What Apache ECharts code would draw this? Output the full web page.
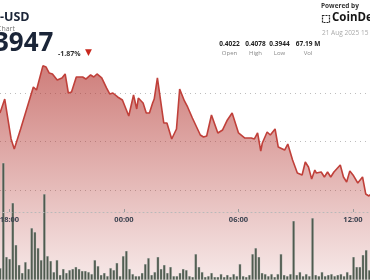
<!DOCTYPE html>
<html><head><meta charset="utf-8">
<script src="https://cdn.jsdelivr.net/npm/echarts@6/dist/echarts.min.js"></script>
<style>html,body{margin:0;padding:0;background:#fff;overflow:hidden}#c{width:370px;height:280px}</style>
</head><body><div id="c"></div>
<script>
// ---- data ----
const pairName = '-USD';
const subTitle = 'Chart';
const lastPrice = '3947';
const changePct = '-1.87%';
const statValues = ['0.4022', '0.4078', '0.3944', '67.19 M'];
const statLabels = ['Open', 'High', 'Low', 'Vol'];
const poweredBy = 'Powered by';
const brand = 'CoinDesk';
const dateText = '21 Aug 2025 15';

const tickValues = [0, 360, 720, 1080];
const tickLabels = ['18:00', '00:00', '06:00', '12:00'];

const lineTimes = ['17:30','17:45','18:05','18:15','18:35','18:40','19:15','19:25','19:45','19:55',
  '20:05','20:15','20:30','20:45','20:55','21:05','21:15','21:30','21:50','22:00',
  '22:15','22:25','22:35','22:50','23:05','23:15','23:25','23:40','23:55','00:05',
  '00:15','00:30','00:40','00:45','01:00','01:10','01:20','01:30','01:35','01:45',
  '02:05','02:15','02:30','02:45','02:55','03:10','03:20','03:35','04:00','04:10',
  '04:20','04:35','04:55','05:10','05:25','05:40','06:00','06:20','06:40','06:50',
  '07:00','07:10','07:15','07:30','07:40','07:55','08:05','08:25','08:35','08:50',
  '09:05','09:20','09:30','09:40','09:50','10:00','10:05','10:20','10:30','10:40',
  '10:50','11:00','11:20','11:30','11:40','11:50','12:00','12:15','12:20','12:30',
  '12:40','12:50','13:00'];
const linePrices = [0.40294,0.40438,0.40026,0.39923,0.40129,0.40125,0.40562,0.40531,0.4078,0.40768,
  0.40706,0.40696,0.40634,0.40655,0.40696,0.40500,0.40510,0.40665,0.40665,0.40644,
  0.40686,0.40665,0.40696,0.40655,0.40552,0.40490,0.40500,0.40459,0.40428,0.40345,
  0.40263,0.40479,0.40335,0.40448,0.40397,0.40294,0.40294,0.40397,0.40438,0.40655,
  0.40191,0.40191,0.40026,0.40129,0.40541,0.40418,0.40356,0.40242,0.40067,0.40046,
  0.40057,0.40273,0.40088,0.40119,0.40222,0.40294,0.40088,0.40036,0.40036,0.40026,
  0.40088,0.39902,0.39985,0.40098,0.40067,0.40129,0.39943,0.39912,0.39974,0.39809,
  0.39675,0.39655,0.39789,0.39737,0.39613,0.39706,0.39675,0.39686,0.39634,0.39686,
  0.39634,0.39686,0.39758,0.39634,0.39582,0.39696,0.39655,0.39572,0.39582,0.39634,
  0.39459,0.39438,0.3947];

// volume bars, one per 10-minute slot
const volStartTime = '17:30';
const volStepMin = 10;
const volumes = [0.54,5.27,1.04,0.95,3.47,1.58,0.68,0.32,0.81,0.50,
  2.34,2.16,1.44,0.90,3.87,1.08,0.86,0.36,0.90,0.23,
  0.50,0.32,0.45,0.50,0.59,0.50,0.41,0.41,0.36,0.27,
  0.90,0.63,0.23,0.32,0.18,0.54,0.45,0.77,0.18,1.08,
  1.31,0.50,0.27,0.18,0.18,0.32,0.72,0.99,0.23,0.36,
  1.04,0.50,0.68,0.32,0.59,0.18,0.18,0.32,0.50,0.45,
  0.18,0.14,1.17,0.59,0.36,0.14,0.18,0.32,0.14,0.14,
  0.27,0.14,0.23,0.14,0.27,0.18,0.72,0.18,0.14,0.23,
  1.17,1.44,1.04,0.32,0.27,0.18,0.27,0.14,0.27,1.17,
  0.23,0.18,0.27,2.66,0.23,0.36,0.18,0.27,0.18,2.79,
  0.23,0.18,0.36,0.18,0.23,0.27,0.18,0.23,0.27,0.18,
  0.36,0.23,1.04,0.59,0.59,1.13,1.35,0.45];

// ---- helpers ----
function toMin(s) {
  const [h, m] = s.split(':').map(Number);
  let v = h * 60 + m - 1080;
  if (v < -120) v += 1440;
  return v;
}
function fmt(m) {
  const a = ((m + 1080) % 1440 + 1440) % 1440;
  return String(Math.floor(a / 60)).padStart(2, '0') + ':' + String(a % 60).padStart(2, '0');
}
const lineData = lineTimes.map((t, i) => [toMin(t), linePrices[i]]);
const volStart = toMin(volStartTime);
const volCats = volumes.map((v, i) => fmt(volStart + i * volStepMin));

const FONT = '"Open Sans", "Noto Sans", sans-serif';
const base = { outerBoundsMode: 'none', containLabel: false };
const gridPos = Object.assign({ left: -105, right: -97.5 }, base);
function xAx(idx, show) {
  return {
    type: 'value', gridIndex: idx, min: -360, max: 1440, interval: 360,
    show: true,
    axisLine: { show: show, lineStyle: { color: '#b9b9b9', type: [1, 3], width: 1 } },
    axisTick: { show: show, inside: true, length: 3, lineStyle: { color: '#9a9a9a' } },
    axisLabel: {
      show: show, margin: 4, fontSize: 7.5, fontWeight: 'bold', color: '#3c4350', fontFamily: FONT,
      formatter: v => { const i = tickValues.indexOf(v); return i >= 0 ? tickLabels[i] : ''; }
    },
    splitLine: { show: false }, z: show ? 10 : 0
  };
}

const chart = echarts.init(document.getElementById('c'), null, { renderer: 'canvas' });
const statX = [229.5, 255.5, 279.5, 308];
const graphics = [
  { type: 'text', left: 0, top: 10.5, style: { text: pairName, font: 'bold 12.5px ' + FONT, fill: '#1b2538' } },
  { type: 'text', x: -3, y: 25, style: { text: subTitle, font: '7px ' + FONT, fill: '#777' } },
  { type: 'text', x: -6, y: 31, style: { text: lastPrice, font: 'bold 26px ' + FONT, fill: '#1b2538' } },
  { type: 'text', left: 58, top: 50, style: { text: changePct, font: 'bold 7px ' + FONT, fill: '#333' } },
  { type: 'text', left: 85, top: 48.5, style: { text: '▼', font: '9px "DejaVu Sans", sans-serif', fill: '#c8281e' } },
  { type: 'text', left: 321, top: 3, style: { text: poweredBy, font: 'bold 6.5px ' + FONT, fill: '#333' } },
  { type: 'rect', shape: { x: 322.5, y: 15.5, width: 7, height: 7 }, style: { fill: 'none', stroke: '#222', lineWidth: 1.2, lineDash: [2, 1] } },
  { type: 'text', left: 332, top: 12, style: { text: brand, font: 'bold 11.5px ' + FONT, fill: '#161616' } },
  { type: 'text', left: 322, top: 30, style: { text: dateText, font: '6.5px ' + FONT, fill: '#aaa' } }
];
statValues.forEach((s, i) => {
  graphics.push({ type: 'text', x: statX[i], y: 44.5, style: { text: s, font: 'bold 6.5px ' + FONT, fill: '#222', align: 'center', verticalAlign: 'middle' } });
  graphics.push({ type: 'text', x: statX[i], y: 53.5, style: { text: statLabels[i], font: '6px ' + FONT, fill: '#888', align: 'center', verticalAlign: 'middle' } });
});

chart.setOption({
  animation: false,
  backgroundColor: '#fff',
  grid: [
    Object.assign({ top: -4, bottom: -7 }, gridPos),                          // price
    Object.assign({ top: 0, bottom: 0, left: -1.4, right: -0.9 }, base),     // volume
    Object.assign({ top: 93, bottom: 90 }, gridPos),                          // dotted grid lines
    Object.assign({ top: 0, bottom: 68 }, gridPos)                            // time axis
  ],
  xAxis: [
    xAx(0, false),
    { type: 'category', gridIndex: 1, data: volCats, boundaryGap: true, show: false },
    xAx(2, false),
    xAx(3, true)
  ],
  yAxis: [
    { type: 'value', gridIndex: 0, min: 0.385, max: 0.415, show: false, splitLine: { show: false } },
    { type: 'value', gridIndex: 1, min: 0, max: 12.6, show: false, splitLine: { show: false } },
    { type: 'value', gridIndex: 2, min: 0.395, max: 0.405, interval: 0.005,
      axisLine: { show: false }, axisTick: { show: false }, axisLabel: { show: false },
      splitLine: { show: true, lineStyle: { color: '#bdbdbd', type: [1, 4], width: 1 } } },
    { type: 'value', gridIndex: 3, show: false, splitLine: { show: false } }
  ],
  graphic: graphics,
  series: [
    {
      type: 'line', xAxisIndex: 0, yAxisIndex: 0, data: lineData, showSymbol: false, z: 2,
      lineStyle: { color: '#c0403a', width: 1.6 },
      areaStyle: { color: new echarts.graphic.LinearGradient(0, 0, 0, 1, [
        { offset: 0, color: 'rgba(180,55,50,0.92)' },
        { offset: 1, color: 'rgba(180,55,50,0.13)' }
      ]) }
    },
    {
      type: 'bar', xAxisIndex: 1, yAxisIndex: 1, data: volumes, barWidth: 2.7, z: 3,
      itemStyle: { color: '#4f5b4f', borderColor: 'rgba(225,228,225,0.7)', borderWidth: 0.4 }
    }
  ]
});
</script></body></html>
